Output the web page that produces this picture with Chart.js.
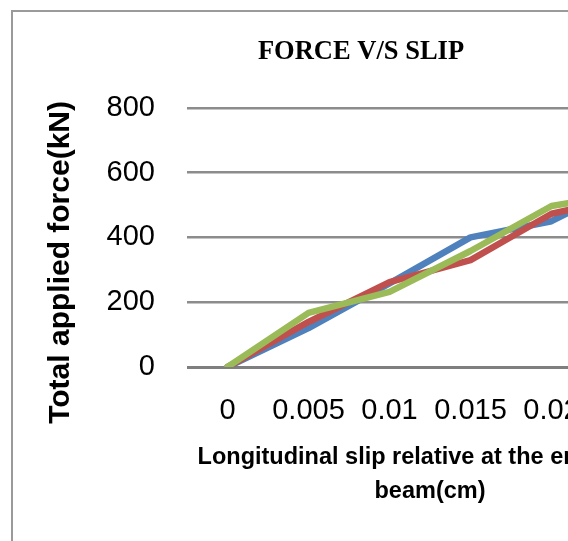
<!DOCTYPE html>
<html><head><meta charset="utf-8">
<script src="https://cdn.jsdelivr.net/npm/chart.js@4.4.0/dist/chart.umd.min.js"></script>
<style>
html,body{margin:0;padding:0;background:#fff;overflow:hidden;width:568px;height:541px;}
#frame{position:absolute;left:11px;top:10px;width:700px;height:620px;border:2px solid #9a9a9a;}
#wrap{position:absolute;left:0;top:0;width:720px;height:600px;}
</style></head><body>
<div id="frame"></div>
<div id="wrap"><canvas id="c" width="720" height="600"></canvas></div>
<script>
const categories = ['0', '0.005', '0.01', '0.015', '0.02', '0.025'];
const series1 = [0, 120, 258, 400, 450, 575];
const series2 = [0, 139, 262, 330, 473, 528];
const series3 = [0, 167, 232, 358, 497, 539];
const seriesNames = ['Series1', 'Series2', 'Series3'];
const yTicks = [0, 200, 400, 600, 800];
const chartTitle = 'FORCE V/S SLIP';
const xTitle = ['Longitudinal slip relative at the end of the', 'beam(cm)'];
const yTitle = 'Total applied force(kN)';

const ctx = document.getElementById('c').getContext('2d');
new Chart(ctx, {
  type: 'line',
  data: {
    labels: categories,
    datasets: [
      {label: seriesNames[0], data: series1, borderColor: '#4F81BD', order: 3},
      {label: seriesNames[1], data: series2, borderColor: '#C0504D', order: 2},
      {label: seriesNames[2], data: series3, borderColor: '#9BBB59', order: 1}
    ].map(d => Object.assign(d, {borderWidth: 6.5, pointRadius: 0, tension: 0, fill: false,
      borderJoinStyle: 'round', borderCapStyle: 'round'}))
  },
  options: {
    responsive: false,
    animation: false,
    layout: {padding: {left: 49, right: 47, top: 0, bottom: 92}},
    plugins: {
      legend: {display: false},
      tooltip: {enabled: false},
      title: {display: true, text: chartTitle, color: '#000',
        font: {family: '"Liberation Serif", "Times New Roman", serif', size: 26.5, weight: 'bold', lineHeight: 1.2},
        padding: {top: 36, bottom: 40}}
    },
    scales: {
      x: {
        type: 'category', offset: true,
        grid: {display: false, drawTicks: false},
        border: {display: false},
        ticks: {color: '#000', font: {family: '"Liberation Sans", Arial, sans-serif', size: 29},
          padding: 27, maxRotation: 0, autoSkip: false},
        title: {display: true, text: xTitle, color: '#000',
          font: {family: '"Liberation Sans", Arial, sans-serif', size: 23.5, weight: 'bold', lineHeight: 1.44},
          padding: {top: 0, bottom: 0}},
        afterFit(s) { s.height = 141; }
      },
      y: {
        min: yTicks[0], max: yTicks[yTicks.length - 1],
        afterBuildTicks(s) { s.ticks = yTicks.map(v => ({value: v})); },
        ticks: {color: '#000', font: {family: '"Liberation Sans", Arial, sans-serif', size: 29}, padding: 32},
        grid: {drawTicks: false,
          color: c => (c.tick && c.tick.value === 0) ? '#7f7f7f' : '#8c8c8c',
          lineWidth: c => (c.tick && c.tick.value === 0) ? 3 : 2.5},
        border: {display: false},
        title: {display: true, text: yTitle + '      ', color: '#000',
          font: {family: '"Liberation Sans", Arial, sans-serif', size: 30, weight: 'bold', lineHeight: 1.2},
          padding: {top: -6, bottom: 0}},
        afterFit(s) { s.width = 138; }
      }
    }
  }
});
</script>
</body></html>
